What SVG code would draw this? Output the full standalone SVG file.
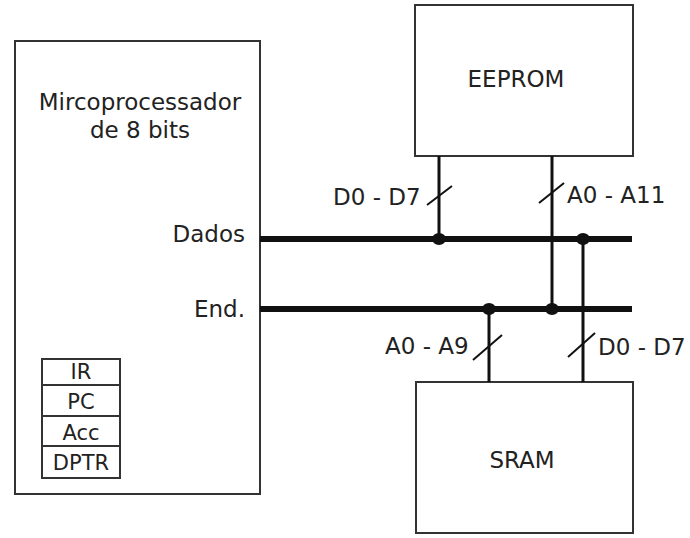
<svg xmlns="http://www.w3.org/2000/svg" width="690" height="538" viewBox="0 0 690 538">
<style>
.box{fill:#fff;stroke:#333;stroke-width:2}
.t{font-family:"DejaVu Sans",Verdana,sans-serif;font-size:23px;fill:#222}
.r{font-family:"DejaVu Sans",Verdana,sans-serif;font-size:21px;fill:#222;text-anchor:middle}
.bus{stroke:#111;stroke-width:6;fill:none}
.wire{stroke:#111;stroke-width:3;fill:none}
.sl{stroke:#111;stroke-width:2;fill:none}
.dot{fill:#111}
</style>
<rect width="690" height="538" fill="#fff"/>
<g id="cpu">
<rect class="box" x="15" y="41" width="245" height="453"/>
<text class="t" x="140" y="110" text-anchor="middle">Mircoprocessador</text>
<text class="t" x="140" y="138" text-anchor="middle">de 8 bits</text>
<text class="t" x="245" y="242" text-anchor="end">Dados</text>
<text class="t" x="245" y="317" text-anchor="end">End.</text>
</g>
<g id="registers">
<rect class="box" x="42" y="359" width="78" height="119"/>
<line class="box" x1="42" y1="385" x2="120" y2="385"/>
<line class="box" x1="42" y1="416" x2="120" y2="416"/>
<line class="box" x1="42" y1="446" x2="120" y2="446"/>
<text class="r" x="81" y="379">IR</text>
<text class="r" x="81" y="409">PC</text>
<text class="r" x="81" y="440">Acc</text>
<text class="r" x="81" y="470">DPTR</text>
</g>
<g id="eeprom">
<rect class="box" x="415" y="5" width="218" height="151"/>
<text class="t" x="516" y="87" text-anchor="middle">EEPROM</text>
</g>
<g id="sram">
<rect class="box" x="416" y="382" width="217" height="151"/>
<text class="t" x="522" y="468" text-anchor="middle">SRAM</text>
</g>
<g id="connectors">
<line class="bus" x1="260" y1="239" x2="632" y2="239"/>
<line class="bus" x1="260" y1="309" x2="632" y2="309"/>
<line class="wire" x1="439" y1="156" x2="439" y2="239"/>
<line class="wire" x1="552" y1="156" x2="552" y2="309"/>
<line class="wire" x1="489" y1="309" x2="489" y2="382"/>
<line class="wire" x1="583" y1="239" x2="583" y2="382"/>
<ellipse class="dot" cx="439" cy="239" rx="7" ry="6"/>
<ellipse class="dot" cx="583" cy="239" rx="7" ry="6"/>
<ellipse class="dot" cx="489" cy="309" rx="7" ry="6"/>
<ellipse class="dot" cx="552" cy="309" rx="7" ry="6"/>
<line class="sl" x1="427" y1="205" x2="452" y2="186"/>
<line class="sl" x1="539" y1="203" x2="564" y2="183"/>
<line class="sl" x1="473" y1="360" x2="502" y2="335"/>
<line class="sl" x1="568" y1="357" x2="595" y2="333"/>
<text class="t" x="333" y="205">D0 - D7</text>
<text class="t" x="567" y="203">A0 - A11</text>
<text class="t" x="385" y="354">A0 - A9</text>
<text class="t" x="598" y="355">D0 - D7</text>
</g>
</svg>
